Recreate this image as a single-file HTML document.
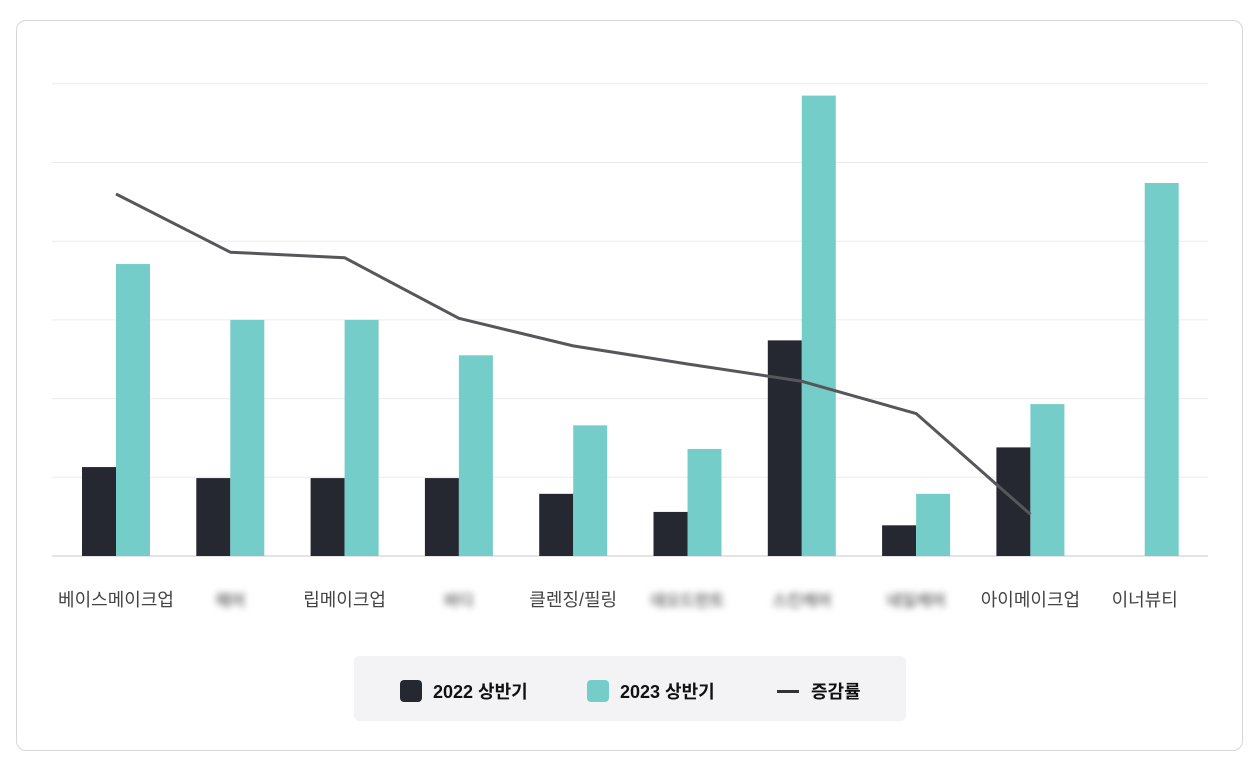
<!DOCTYPE html>
<html><head><meta charset="utf-8">
<style>
body{margin:0;width:1260px;height:768px;background:#fff;font-family:"Liberation Sans","Noto Sans CJK KR",sans-serif;overflow:hidden}
#card{position:absolute;left:16px;top:20px;width:1227px;height:731px;border:1px solid #d6d6d9;border-radius:10px;box-sizing:border-box}
#legend{position:absolute;left:354px;top:656px;width:552px;height:65px;background:#f3f3f5;border-radius:5px}
.li{position:absolute;top:22px;display:flex;align-items:center;font-size:18px;font-weight:bold;color:#111}
.sw{width:22px;height:22px;border-radius:4px;margin-right:11px}
</style></head><body>
<div id="card"></div>
<svg id="chart" width="1260" height="768" style="position:absolute;left:0;top:0"></svg>
<div id="legend">
 <div class="li" style="left:46px"><div class="sw" style="background:#252831"></div>2022 상반기</div>
 <div class="li" style="left:233px"><div class="sw" style="background:#74cdc9"></div>2023 상반기</div>
 <div class="li" style="left:423px"><div style="width:22px;height:3px;background:#333;margin-right:12px"></div>증감률</div>
</div>
<script>
const categories=["베이스메이크업","헤어","립메이크업","바디","클렌징/필링","데오드란트","스킨케어","네일케어","아이메이크업","이너뷰티"];
const blurred=[false,true,false,true,false,true,true,true,false,false];
const values2022=[1.13,0.99,0.99,0.99,0.79,0.56,2.74,0.39,1.38,0];
const values2023=[3.71,3.0,3.0,2.55,1.66,1.36,5.85,0.79,1.93,4.74];
const growth=[4.6,3.86,3.79,3.02,2.67,2.44,2.22,1.81,0.53];
const gridTicks=[0,1,2,3,4,5,6];
const svg=document.getElementById('chart');const NS='http://www.w3.org/2000/svg';
const x0=52,x1=1208,y0=556,unit=78.7,slot=114.3,bw=34,firstC=116;
const y=v=>y0-v*unit;const cx=i=>firstC+i*slot;
function mk(t,a){const e=document.createElementNS(NS,t);for(const k in a)e.setAttribute(k,a[k]);svg.appendChild(e);return e;}
gridTicks.forEach(t=>{const l=mk('line',{x1:x0,x2:x1,y1:y(t),y2:y(t),stroke:t==0?'#c8c8cc':'#ececee','stroke-width':1});

});
categories.forEach((c,i)=>{
 const a=mk('rect',{x:cx(i)-bw,y:y(values2022[i]),width:bw,height:values2022[i]*unit,fill:'#252831'});
 
 
 const b=mk('rect',{x:cx(i),y:y(values2023[i]),width:bw,height:values2023[i]*unit,fill:'#74cdc9'});
 
 
 const t=mk('text',{x:cx(i),y:606,'text-anchor':'middle','font-size':18,fill:'#444'});
 if(blurred[i]){t.setAttribute('filter','blur(3.5px)');t.setAttribute('font-size',16);t.setAttribute('fill','#777');t.setAttribute('font-weight','bold');}
 t.textContent=c;
 
 
});
const p=mk('polyline',{points:growth.map((g,i)=>cx(i)+','+y(g)).join(' '),fill:'none',stroke:'#57575b','stroke-width':3,'stroke-linejoin':'round'});


</script>
</body></html>
